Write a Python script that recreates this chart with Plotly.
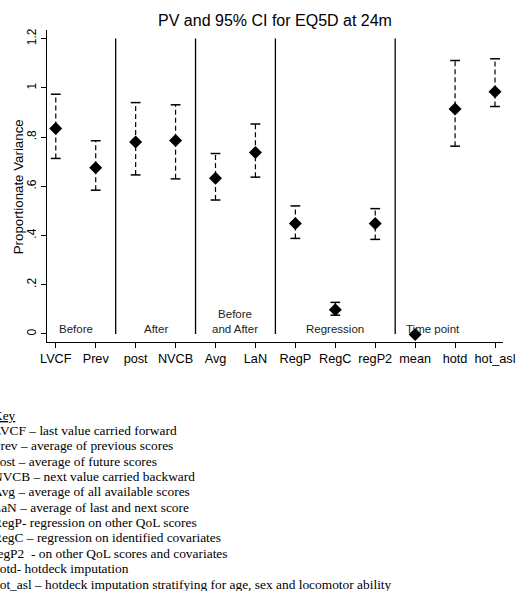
import plotly.graph_objects as go

methods = ["LVCF", "Prev", "post", "NVCB", "Avg", "LaN", "RegP", "RegC", "regP2", "mean", "hotd", "hot_asl"]
pv = [0.835, 0.675, 0.780, 0.786, 0.633, 0.737, 0.449, 0.098, 0.449, -0.003, 0.914, 0.984]
ci_low = [0.713, 0.584, 0.646, 0.630, 0.544, 0.637, 0.388, 0.076, 0.384, None, 0.763, 0.924]
ci_high = [0.974, 0.785, 0.940, 0.931, 0.733, 0.853, 0.520, 0.128, 0.509, None, 1.111, 1.118]

group_names = ["Before", "After", "Before<br>and After", "Regression", "Time point"]
group_sizes = [2, 2, 2, 3, 3]

ytick_vals = [0, 0.2, 0.4, 0.6, 0.8, 1.0, 1.2]
ytick_text = ["0", ".2", ".4", ".6", ".8", "1", "1.2"]

key_title = "Key"
key_lines = [
    "LVCF \u2013 last value carried forward",
    "Prev \u2013 average of previous scores",
    "post \u2013 average of future scores",
    "NVCB \u2013 next value carried backward",
    "Avg \u2013 average of all available scores",
    "LaN \u2013 average of last and next score",
    "RegP- regression on other QoL scores",
    "RegC \u2013 regression on identified covariates",
    "regP2  - on other QoL scores and covariates",
    "hotd- hotdeck imputation",
    "hot_asl \u2013 hotdeck imputation stratifying for age, sex and locomotor ability",
]

xs = list(range(1, len(methods) + 1))

# dashed CI stems
sx, sy = [], []
cx, cy = [], []
for x, lo, hi in zip(xs, ci_low, ci_high):
    if lo is None:
        continue
    sx += [x, x, None]
    sy += [lo, hi, None]
    cx += [x, x]
    cy += [lo, hi]

fig = go.Figure()
fig.add_trace(go.Scatter(x=sx, y=sy, mode="lines",
                         line=dict(color="black", width=1.2, dash="5px,3px"),
                         hoverinfo="skip", showlegend=False))
fig.add_trace(go.Scatter(x=cx, y=cy, mode="markers",
                         marker=dict(symbol="line-ew", size=7, line=dict(color="black", width=1.5)),
                         hoverinfo="skip", showlegend=False))
fig.add_trace(go.Scatter(x=xs, y=pv, mode="markers",
                         marker=dict(symbol="diamond", size=10, color="black"),
                         showlegend=False))

# group separators and labels
start = 1
for i, (name, n) in enumerate(zip(group_names, group_sizes)):
    end = start + n - 1
    if i < len(group_names) - 1:
        b = end + 0.5
        fig.add_shape(type="line", xref="x", yref="y", x0=b, x1=b, y0=0, y1=1.2,
                      line=dict(color="black", width=1.3))
    if name == "Time point":
        fig.add_annotation(x=start - 0.27, y=0.0, xref="x", yref="y", text=name,
                           showarrow=False, xanchor="left", yanchor="bottom", yshift=-3,
                           font=dict(family="Liberation Sans, Arial", size=11.5, color="#222"))
    else:
        fig.add_annotation(x=(start + end) / 2, y=0.0, xref="x", yref="y", text=name,
                           showarrow=False, xanchor="center", yanchor="bottom", yshift=-3,
                           font=dict(family="Liberation Sans, Arial", size=11.5, color="#222"))
    start = end + 1

# key text below the chart
W, H = 527, 591
ml, mr, mt, mb = 47, 19, 30, 249
pw = W - ml - mr
ph = H - mt - mb

def px_to_paper(xp, yp):
    return (xp - ml) / pw, (H - mb - yp) / ph

KEY_FONT = dict(family="Liberation Serif, Times New Roman", size=13.4, color="black")
kx, ky = px_to_paper(-9.5, 415)
fig.add_annotation(x=kx, y=ky, xref="paper", yref="paper", text="<u>" + key_title + "</u>",
                   showarrow=False, xanchor="left", yanchor="middle", font=KEY_FONT)
for i, line in enumerate(key_lines):
    kx, ky = px_to_paper(-9.5, 430.5 + i * 15.35)
    fig.add_annotation(x=kx, y=ky, xref="paper", yref="paper", text=line,
                       showarrow=False, xanchor="left", yanchor="middle", font=KEY_FONT)

# y-axis title
tx, ty = px_to_paper(18, 187)
fig.add_annotation(x=tx, y=ty, xref="paper", yref="paper", text="Proportionate Variance",
                   textangle=-90, showarrow=False, xanchor="center", yanchor="middle",
                   font=dict(family="Liberation Sans, Arial", size=13.3, color="black"))

fig.update_layout(
    width=W, height=H,
    margin=dict(l=ml, r=mr, t=mt, b=mb),
    paper_bgcolor="white", plot_bgcolor="white",
    title=dict(text="PV and 95% CI for EQ5D at 24m", x=0.5, xref="paper", xanchor="center",
               y=1 - 20 / H, yanchor="middle",
               font=dict(family="Liberation Sans, Arial", size=16, color="black")),
    font=dict(family="Liberation Sans, Arial", color="black"),
)
fig.update_xaxes(range=[0.78, 12.2], tickmode="array", tickvals=xs, ticktext=methods,
                 showgrid=False, zeroline=False, showline=True, linecolor="black", linewidth=1,
                 ticks="outside", ticklen=5, tickcolor="black",
                 tickfont=dict(size=12.7, family="Liberation Sans, Arial", color="black"))
fig.update_yaxes(range=[-0.033, 1.235], tickmode="array", tickvals=ytick_vals, ticktext=ytick_text,
                 tickangle=-90, showgrid=False, zeroline=False, showline=True, linecolor="black",
                 linewidth=1, ticks="outside", ticklen=5, tickcolor="black",
                 tickfont=dict(size=12, family="Liberation Sans, Arial", color="black"))

fig.write_html("out.html", config={"displayModeBar": False},
               post_script="document.body.style.margin='0';document.body.style.overflow='hidden';")
